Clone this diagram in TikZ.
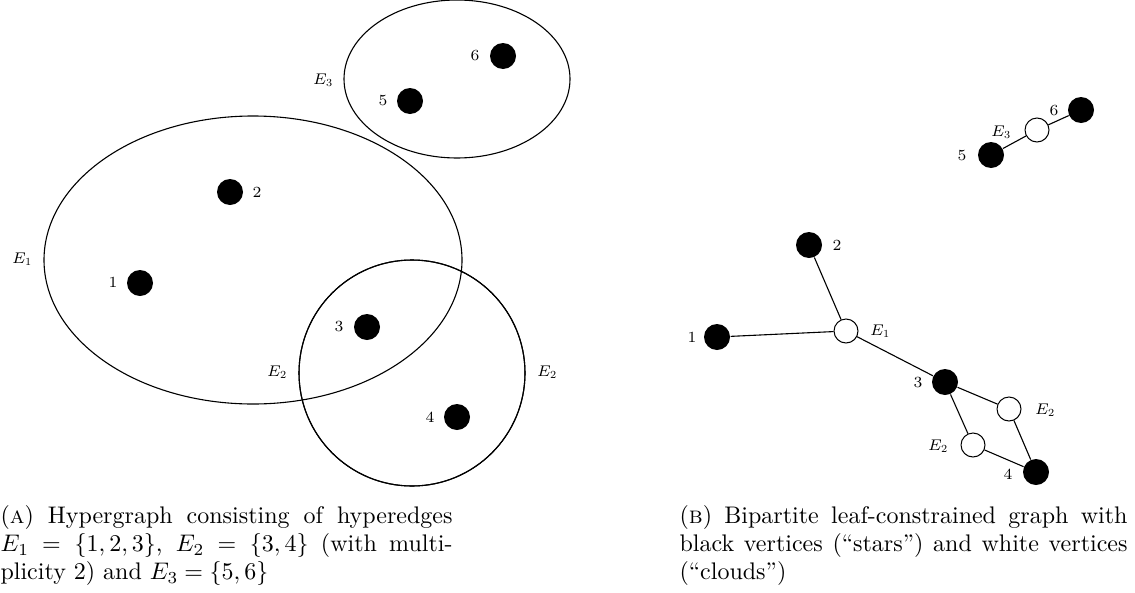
\documentclass[tikz,border=0pt]{standalone}
\usepackage{fontspec}
\setmainfont{lmroman10-regular.otf}[SmallCapsFont=lmromancaps10-regular.otf]
\newfontfamily\lblfont{lmroman7-regular.otf}
\DeclareFontShape{OML}{cmm}{m}{it}{<-20>cmmi7<20->cmmi10}{\skewchar\font=127}
\DeclareFontShape{OMS}{cmsy}{m}{n}{<-20>cmsy7<20->cmsy10}{\skewchar\font=48}
\DeclareFontShape{OT1}{cmr}{m}{n}{<-20>cmr7<20->cmr10}{}
\newcommand{\lbltext}{\lblfont\fontsize{15.5pt}{18pt}\selectfont}
\newcommand{\captext}{\fontsize{24pt}{28pt}\selectfont}
\tikzset{
  star/.style={circle,fill=black,minimum size=26pt,inner sep=0pt},
  cloud/.style={circle,draw,fill=white,minimum size=24pt,inner sep=0pt,line width=1pt},
  lbl/.style={inner sep=0pt,font=\lbltext},
  capt/.style={anchor=north west,inner sep=0pt,text width=452pt,align=justify,font=\captext}
}
\begin{document}
\begin{tikzpicture}[x=1pt,y=-1pt,line width=1.1pt]
  \useasboundingbox (0,0) rectangle (1135,592);
  % hypergraph
  \draw (253,260) ellipse [x radius=209,y radius=144];
  \draw (412,373) circle [radius=113];
  \draw (412,373) circle [radius=113];
  \draw (457,79) ellipse [x radius=113,y radius=79];
  \node[star] (a1) at (140,283) {};
  \node[star] (a2) at (230,192) {};
  \node[star] (a3) at (367,327) {};
  \node[star] (a4) at (457,417) {};
  \node[star] (a5) at (410,101) {};
  \node[star] (a6) at (503,56) {};
  \node[lbl] (la1) at (113,282) {1};
  \node[lbl] (la2) at (257,192) {2};
  \node[lbl] (la3) at (339,327) {3};
  \node[lbl] (la4) at (430,417) {4};
  \node[lbl] (la5) at (383,101) {5};
  \node[lbl] (la6) at (475,56) {6};
  \node[lbl] (lE1) at (22,259) {$E_1$};
  \node[lbl] (lE2a) at (277,372) {$E_2$};
  \node[lbl] (lE2b) at (547,372) {$E_2$};
  \node[lbl] (lE3) at (323,80) {$E_3$};
  % bipartite graph
  \node[star] (b1) at (717,337) {};
  \node[star] (b2) at (809,245) {};
  \node[cloud] (c1) at (846,331) {};
  \node[star] (b3) at (945,382) {};
  \node[cloud] (c2) at (1009,409) {};
  \node[cloud] (c2b) at (973,445) {};
  \node[star] (b4) at (1036,472) {};
  \node[star] (b5) at (991,155) {};
  \node[cloud] (c3) at (1037,130) {};
  \node[star] (b6) at (1081,110) {};
  \draw (b1) -- (c1);
  \draw (b2) -- (c1);
  \draw (c1) -- (b3);
  \draw (b3) -- (c2);
  \draw (b3) -- (c2b);
  \draw (c2) -- (b4);
  \draw (c2b) -- (b4);
  \draw (b5) -- (c3);
  \draw (c3) -- (b6);
  \node[lbl] (lb1) at (692,337) {1};
  \node[lbl] (lb2) at (837,245) {2};
  \node[lbl] (lb3) at (918,383) {3};
  \node[lbl] (lb4) at (1008,474) {4};
  \node[lbl] (lb5) at (962,156) {5};
  \node[lbl] (lb6) at (1054,111) {6};
  \node[lbl] (lc1) at (880,331) {$E_1$};
  \node[lbl] (lc2) at (1045,410) {$E_2$};
  \node[lbl] (lc2b) at (938,446) {$E_2$};
  \node[lbl] (lc3) at (1001,132) {$E_3$};
  % captions
  \node[capt] (capA) at (0,505) {(\textsc{a}) Hypergraph consisting of hyperedges\linebreak
    $E_1=\{1,2,3\}$, $E_2=\{3,4\}$ (with multi-\linebreak plicity 2) and $E_3=\{5,6\}$};
  \node[capt,text width=448pt] (capB) at (679,505) {(\textsc{b}) Bipartite leaf-constrained graph with\linebreak
    black vertices (``stars'') and white vertices\linebreak (``clouds'')};
\end{tikzpicture}
\end{document}
